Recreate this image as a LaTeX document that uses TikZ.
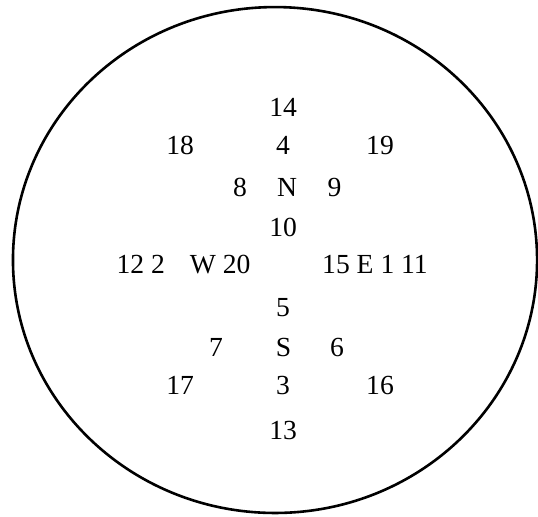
\documentclass[tikz,border=0pt]{standalone}
\usepackage{fontspec}
\setmainfont{Liberation Serif}

\begin{document}
\begin{tikzpicture}[lbl/.style={inner sep=0pt,font=\fontsize{13.8}{16}\selectfont}]
\useasboundingbox (-4.833,-4.499) rectangle (4.621,4.569);
\draw[line width=1.3pt] (0,0) ellipse [x radius=4.605cm, y radius=4.445cm];
% north column
\node[lbl] (n14) at (0.141,2.689) {14};
\node[lbl] (n18) at (-1.669,2.021) {18};
\node[lbl] (n4) at (0.141,2.021) {4};
\node[lbl] (n19) at (1.845,2.021) {19};
\node[lbl] (n8) at (-0.615,1.283) {8};
\node[lbl] (north) at (0.211,1.283) {N};
\node[lbl] (n9) at (1.046,1.283) {9};
\node[lbl] (n10) at (0.141,0.580) {10};
% west and east
\node[lbl] (west) at (-1.608,-0.088) {12 2\hspace{0.9em}W 20};
\node[lbl] (east) at (1.757,-0.088) {15 E 1 11};
% south column
\node[lbl] (n5) at (0.141,-0.844) {5};
\node[lbl] (n7) at (-1.037,-1.529) {7};
\node[lbl] (south) at (0.149,-1.529) {S};
\node[lbl] (n6) at (1.090,-1.529) {6};
\node[lbl] (n17) at (-1.669,-2.197) {17};
\node[lbl] (n3) at (0.141,-2.197) {3};
\node[lbl] (n16) at (1.845,-2.197) {16};
\node[lbl] (n13) at (0.141,-2.987) {13};
\end{tikzpicture}
\end{document}
